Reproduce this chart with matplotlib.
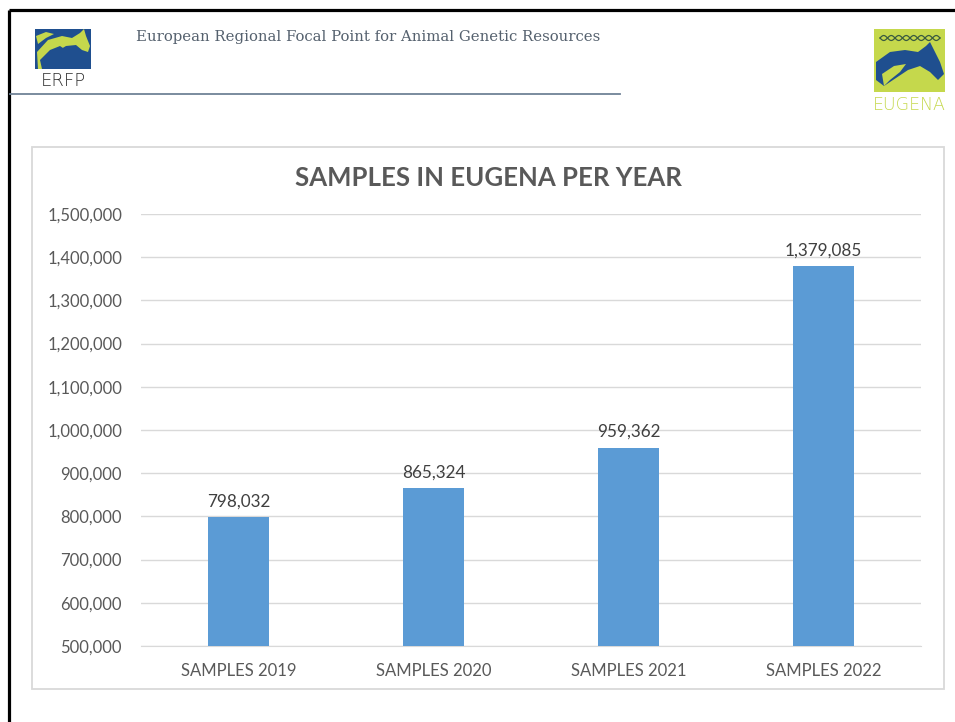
import numpy as np
import matplotlib.pyplot as plt
from matplotlib.patches import Rectangle, Polygon
from matplotlib.ticker import FuncFormatter

# data
categories = ['SAMPLES 2019', 'SAMPLES 2020', 'SAMPLES 2021', 'SAMPLES 2022']
samples = [798032, 865324, 959362, 1379085]
y_ticks = [500000, 600000, 700000, 800000, 900000, 1000000,
           1100000, 1200000, 1300000, 1400000, 1500000]

W, H = 955, 722
fig = plt.figure(figsize=(W / 100, H / 100), dpi=100)
fig.patch.set_facecolor('white')

# background axes in pixel coords for the slide decoration
bg = fig.add_axes([0, 0, 1, 1])
bg.set_xlim(0, W)
bg.set_ylim(H, 0)
bg.axis('off')

# slide frame (top + left black border)
bg.plot([9, W], [10, 10], color='black', lw=2.3, solid_capstyle='butt')
bg.plot([9, 9], [10, H], color='black', lw=2.3, solid_capstyle='butt')

# header line and text
bg.plot([10, 620], [94, 94], color='#6f8296', lw=1.3)
bg.text(136, 37, 'European Regional Focal Point for Animal Genetic Resources',
        family='DejaVu Serif', fontsize=10.7, color='#55616e', va='center', ha='left')

# ERFP logo
blue = '#1f4f8f'
lime = '#c5d84c'
bg.add_patch(Rectangle((35, 29), 56, 40, facecolor=blue, edgecolor='none'))
bg.add_patch(Polygon([(37, 52), (48, 40), (62, 36), (72, 38), (80, 33), (84, 29),
                      (86, 36), (90, 46), (88, 52), (82, 50), (76, 45), (66, 46),
                      (56, 52), (48, 62), (44, 69), (38, 69)],
                     facecolor=lime, edgecolor='none'))
bg.add_patch(Polygon([(40, 60), (50, 50), (60, 46), (66, 50), (58, 56), (50, 64),
                      (46, 69), (42, 69)], facecolor=blue, edgecolor='none'))
bg.add_patch(Polygon([(36, 36), (46, 32), (54, 34), (46, 38), (38, 44)],
                     facecolor=lime, edgecolor='none'))
bg.text(63, 81, 'ERFP', fontsize=13, color='#2b2b2b', va='center', ha='center',
        family='DejaVu Sans', fontweight='light')

# EUGENA logo
bg.add_patch(Rectangle((874, 29), 71, 63, facecolor=lime, edgecolor='none'))
xs = np.linspace(880, 940, 80)
wave = 2.5 * np.sin((xs - 880) / 60 * 4 * 2 * np.pi)
bg.plot(xs, 38 + wave, color='#3a5a40', lw=0.9)
bg.plot(xs, 38 - wave, color='#3a5a40', lw=0.9)
bg.add_patch(Polygon([(876, 62), (890, 52), (905, 50), (918, 52), (926, 46), (930, 42),
                      (934, 50), (940, 62), (944, 74), (938, 80), (930, 72), (920, 66),
                      (908, 70), (896, 78), (884, 86), (876, 80)],
                     facecolor=blue, edgecolor='none'))
bg.add_patch(Polygon([(882, 74), (894, 66), (906, 64), (900, 72), (890, 80), (884, 86)],
                     facecolor=lime, edgecolor='none'))
bg.text(909, 105, 'EUGENA', fontsize=12.5, color=lime, va='center', ha='center',
        family='DejaVu Sans', fontweight='light')

# chart area border
bg.add_patch(Rectangle((32, 147), 912, 542, facecolor='none', edgecolor='#d9d9d9', lw=1.3))

# the bar chart itself
ax = fig.add_axes([141 / W, 1 - 646 / H, 780 / W, 432 / H])
x = np.arange(len(categories))
ax.bar(x, samples, width=0.31, color='#5b9bd5', zorder=3)
ax.set_xlim(-0.5, len(categories) - 0.5)
ax.set_ylim(y_ticks[0], y_ticks[-1])
ax.set_yticks(y_ticks)
ax.yaxis.set_major_formatter(FuncFormatter(lambda v, p: '{:,.0f}'.format(v)))
ax.set_xticks(x)
ax.set_xticklabels(categories)
ax.grid(axis='y', color='#d9d9d9', lw=1, zorder=0)
for s in ['top', 'right', 'left']:
    ax.spines[s].set_visible(False)
ax.spines['bottom'].set_color('#d9d9d9')
ax.tick_params(axis='both', length=0, colors='#595959', labelsize=12)
ax.tick_params(axis='y', pad=13.7)
ax.tick_params(axis='x', pad=12)
for lab in ax.get_xticklabels() + ax.get_yticklabels():
    lab.set_family('Lato')

for xi, v in zip(x, samples):
    ax.annotate('{:,}'.format(v), (xi, v), xytext=(0, 5.5), textcoords='offset points',
                ha='center', va='bottom', fontsize=12.3, color='#404040', family='Lato')

bg.text(488, 178, 'SAMPLES IN EUGENA PER YEAR', fontsize=18.5, fontweight='bold',
        color='#595959', ha='center', va='center', family='Lato')

fig.savefig('out.png', dpi=100)
